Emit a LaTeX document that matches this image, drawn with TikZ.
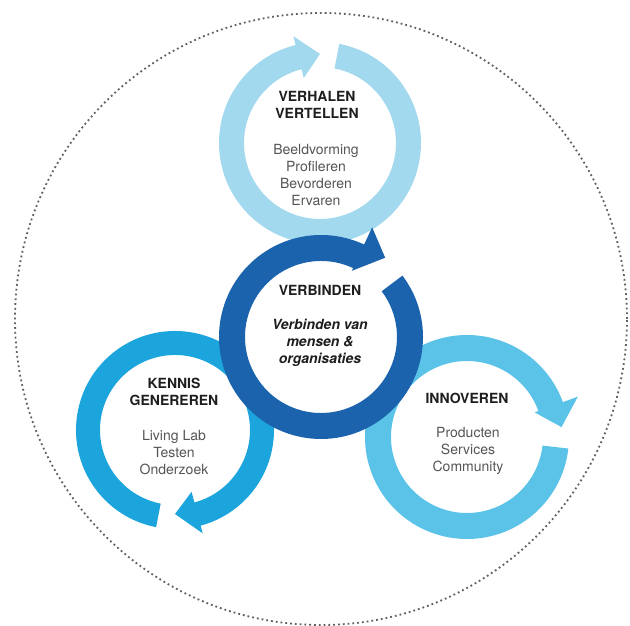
\documentclass[tikz,border=0pt]{standalone}
\usepackage{fontspec}
\setmainfont{TeX Gyre Heros}
\usetikzlibrary{calc}
\definecolor{ctop}{HTML}{A3D9EF}
\definecolor{cdark}{HTML}{1C63AE}
\definecolor{cleft}{HTML}{1CA5DC}
\definecolor{cright}{HTML}{5CC3E8}
\definecolor{ctitle}{HTML}{1E1E1E}
\definecolor{citem}{HTML}{555555}
\definecolor{cdots}{HTML}{606060}
% #1 colour, #2 centre, #3 r_in, #4 r_out, #5 tail angle, #6 head base angle,
% #7 head inner r, #8 head outer r, #9 tip angle ; tip radius given by \tipr
\newcommand\myringarrow[9]{%
  \fill[#1, shift={(#2)}] (#5:#4) arc[start angle=#5, end angle=#6, radius=#4]
    -- (#6:#8) -- (#9:\tipr) -- (#6:#7) -- (#6:#3)
    arc[start angle=#6, end angle=#5, radius=#3] -- cycle;}
\begin{document}
\begin{tikzpicture}[x=1pt,y=1pt,
  titlefont/.style={font={\fontsize{14}{17}\selectfont\bfseries}, text=ctitle, align=center, inner sep=0pt},
  itemfont/.style={font={\fontsize{14}{17}\selectfont}, text=citem, align=center, inner sep=0pt},
  slogan/.style={font={\fontsize{14}{17}\selectfont\bfseries\itshape}, text=ctitle, align=center, inner sep=0pt},
  dotring/.style={draw=cdots, line width=1.8pt, dash pattern=on 1.8pt off 3pt}]
\useasboundingbox (0,0) rectangle (630,626);
\fill[white] (0,0) rectangle (630,626);
\coordinate (ocen) at (321,307);
\coordinate (ctopc) at (320,483);
\coordinate (cdarkc) at (321,289);
\coordinate (cleftc) at (175,196);
\coordinate (crightc) at (467,189);
\draw[dotring] (ocen) circle[radius=306];
% top ring
\def\tipr{89}
\myringarrow{ctop}{ctopc}{76}{101}{79}{-256}{67}{110}{-270}
% left ring
\def\tipr{84}
\myringarrow{cleft}{cleftc}{75}{99}{-101}{-435}{64}{107}{-450}
% right ring
\def\tipr{95}
\myringarrow{cright}{crightc}{76}{102}{-6.5}{-340}{72}{118}{-354}
% centre ring
\fill[white] (cdarkc) circle[radius=76];
\def\tipr{102}
\myringarrow{cdark}{cdarkc}{76}{102}{37}{-295}{73}{121}{-309}
% texts
\node[titlefont] (t1) at (317,521.5) {VERHALEN\\VERTELLEN};
\node[itemfont] (i1) at (316,451) {Beeldvorming\\Profileren\\Bevorderen\\Ervaren};
\node[titlefont] (t2) at (320,336) {VERBINDEN};
\node[slogan] (i2) at (320,283) {Verbinden van\\mensen \&\\organisaties};
\node[titlefont] (t3) at (174,234.5) {KENNIS\\GENEREREN};
\node[itemfont] (i3) at (174,173) {Living Lab\\Testen\\Onderzoek};
\node[titlefont] (t4) at (467,228) {INNOVEREN};
\node[itemfont] (i4) at (468,175) {Producten\\Services\\Community};
\end{tikzpicture}
\end{document}
